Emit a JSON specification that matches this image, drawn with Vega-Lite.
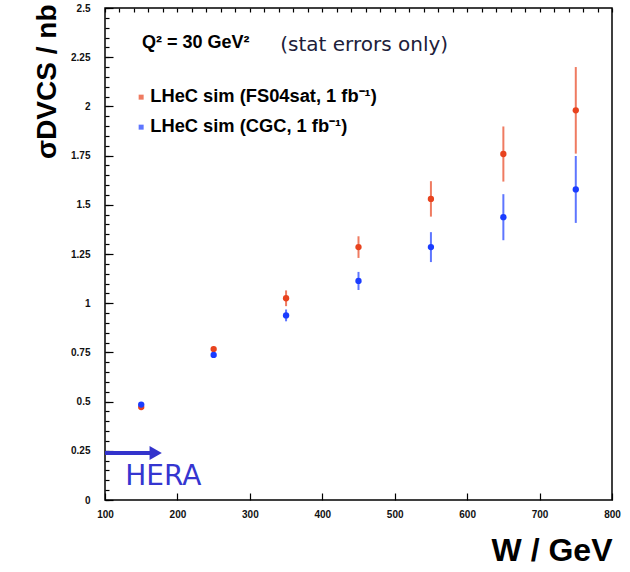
{
  "$schema": "https://vega.github.io/schema/vega-lite/v6.json",
  "width": 507,
  "height": 492,
  "autosize": {"type": "none"},
  "padding": {"left": 105, "top": 8, "right": 18, "bottom": 72},
  "background": "white",
  "config": {
    "view": {"stroke": "black", "strokeWidth": 1.5},
    "axis": {"grid": false, "domain": false, "ticks": true, "tickColor": "black", "tickWidth": 1, "tickOpacity": 1, "labelColor": "#111111", "labelFont": "Liberation Sans", "labelFontWeight": "bold", "labelFontSize": 10, "titleFont": "Liberation Sans", "titleFontWeight": "bold", "titleColor": "black"}
  },
  "data": {
    "values": [
      {"W": 150, "sigma": 0.472, "lo": 0.464, "hi": 0.480, "series": "LHeC sim (FS04sat, 1 fb⁻¹)"},
      {"W": 250, "sigma": 0.767, "lo": 0.754, "hi": 0.780, "series": "LHeC sim (FS04sat, 1 fb⁻¹)"},
      {"W": 350, "sigma": 1.025, "lo": 0.985, "hi": 1.065, "series": "LHeC sim (FS04sat, 1 fb⁻¹)"},
      {"W": 450, "sigma": 1.285, "lo": 1.230, "hi": 1.340, "series": "LHeC sim (FS04sat, 1 fb⁻¹)"},
      {"W": 550, "sigma": 1.530, "lo": 1.440, "hi": 1.620, "series": "LHeC sim (FS04sat, 1 fb⁻¹)"},
      {"W": 650, "sigma": 1.758, "lo": 1.618, "hi": 1.898, "series": "LHeC sim (FS04sat, 1 fb⁻¹)"},
      {"W": 750, "sigma": 1.980, "lo": 1.760, "hi": 2.200, "series": "LHeC sim (FS04sat, 1 fb⁻¹)"},
      {"W": 150, "sigma": 0.485, "lo": 0.477, "hi": 0.493, "series": "LHeC sim (CGC, 1 fb⁻¹)"},
      {"W": 250, "sigma": 0.737, "lo": 0.725, "hi": 0.749, "series": "LHeC sim (CGC, 1 fb⁻¹)"},
      {"W": 350, "sigma": 0.938, "lo": 0.908, "hi": 0.968, "series": "LHeC sim (CGC, 1 fb⁻¹)"},
      {"W": 450, "sigma": 1.113, "lo": 1.067, "hi": 1.159, "series": "LHeC sim (CGC, 1 fb⁻¹)"},
      {"W": 550, "sigma": 1.285, "lo": 1.209, "hi": 1.361, "series": "LHeC sim (CGC, 1 fb⁻¹)"},
      {"W": 650, "sigma": 1.437, "lo": 1.320, "hi": 1.554, "series": "LHeC sim (CGC, 1 fb⁻¹)"},
      {"W": 750, "sigma": 1.578, "lo": 1.408, "hi": 1.748, "series": "LHeC sim (CGC, 1 fb⁻¹)"}
    ]
  },
  "layer": [
    {
      "mark": {"type": "rule", "strokeWidth": 2, "opacity": 0.7},
      "encoding": {
        "x": {"field": "W", "type": "quantitative", "scale": {"domain": [100, 800], "nice": false, "zero": false}, "axis": null},
        "y": {"field": "lo", "type": "quantitative", "scale": {"domain": [0, 2.5], "nice": false, "zero": false}, "axis": null},
        "y2": {"field": "hi"},
        "color": {"field": "series", "type": "nominal", "scale": {"domain": ["LHeC sim (FS04sat, 1 fb⁻¹)", "LHeC sim (CGC, 1 fb⁻¹)"], "range": ["#e8431e", "#1a3cff"]}}
      }
    },
    {
      "mark": {"type": "circle", "size": 40, "opacity": 1},
      "encoding": {
        "x": {"field": "W", "type": "quantitative",
              "axis": {"orient": "bottom", "offset": -7, "values": [100,120,140,160,180,200,220,240,260,280,300,320,340,360,380,400,420,440,460,480,500,520,540,560,580,600,620,640,660,680,700,720,740,760,780,800],
                       "ticks": true, "tickSize": 7, "tickColor": "black", "tickWidth": 1.2,
                       "tickOpacity": {"condition": {"test": "datum.value % 100 === 0", "value": 1}, "value": 0},
                       "grid": true, "gridColor": "black", "gridOpacity": 1, "gridWidth": 1.2, "gridDash": [4, 1000],
                       "labelExpr": "datum.value % 100 === 0 ? datum.label : ''",
                       "labelPadding": 9, "labelFlush": false, "labelOverlap": false,
                       "title": "W / GeV", "titleFontSize": 32, "titleAnchor": "end", "titleAlign": "right", "titleBaseline": "alphabetic", "titleY": 67}},
        "y": {"field": "sigma", "type": "quantitative",
              "axis": {"orient": "left", "offset": -8, "values": [0,0.05,0.1,0.15,0.2,0.25,0.3,0.35,0.4,0.45,0.5,0.55,0.6,0.65,0.7,0.75,0.8,0.85,0.9,0.95,1,1.05,1.1,1.15,1.2,1.25,1.3,1.35,1.4,1.45,1.5,1.55,1.6,1.65,1.7,1.75,1.8,1.85,1.9,1.95,2,2.05,2.1,2.15,2.2,2.25,2.3,2.35,2.4,2.45,2.5],
                       "ticks": true, "tickSize": 8, "tickColor": "black", "tickWidth": 1.2,
                       "tickOpacity": {"condition": {"test": "abs(datum.value * 4 - floor(datum.value * 4 + 0.5)) < 0.001", "value": 1}, "value": 0},
                       "grid": true, "gridColor": "black", "gridOpacity": 1, "gridWidth": 1.2, "gridDash": [4, 1000],
                       "labelExpr": "abs(datum.value * 4 - floor(datum.value * 4 + 0.5)) < 0.001 ? format(datum.value, '.2~f') : ''",
                       "labelPadding": 15, "labelFlush": false, "labelOverlap": false,
                       "title": "σDVCS / nb", "titleFontSize": 28, "titleAnchor": "end", "titleAlign": "right", "titleAngle": -90, "titleBaseline": "alphabetic", "titleX": -58, "titleY": -4}},
        "color": {"field": "series", "type": "nominal",
                  "legend": {"orient": "none", "legendX": 27, "legendY": 80, "title": null, "symbolType": "square", "symbolSize": 25, "symbolStrokeWidth": 0, "symbolOpacity": 1, "labelFontSize": 18.3, "labelFont": "Liberation Sans", "labelFontWeight": "bold", "labelColor": "black", "rowPadding": 11, "labelOffset": 0, "labelLimit": 400}}
      }
    },
    {
      "data": {"values": [{}]},
      "mark": {"type": "text", "text": "Q² = 30 GeV²", "align": "left", "baseline": "alphabetic", "font": "Liberation Sans", "fontWeight": "bold", "fontSize": 18, "color": "black"},
      "encoding": {"x": {"datum": 151, "type": "quantitative", "axis": null}, "y": {"datum": 2.297, "type": "quantitative", "axis": null}}
    },
    {
      "data": {"values": [{}]},
      "mark": {"type": "text", "text": "(stat errors only)", "align": "left", "baseline": "alphabetic", "font": "DejaVu Sans", "fontSize": 20, "color": "#20203a"},
      "encoding": {"x": {"datum": 342, "type": "quantitative", "axis": null}, "y": {"datum": 2.28, "type": "quantitative", "axis": null}}
    },
    {
      "data": {"values": [{}]},
      "mark": {"type": "text", "text": "HERA", "align": "left", "baseline": "alphabetic", "font": "DejaVu Sans", "fontSize": 28, "color": "#3535d0"},
      "encoding": {"x": {"datum": 128, "type": "quantitative", "axis": null}, "y": {"datum": 0.076, "type": "quantitative", "axis": null}}
    },
    {
      "data": {"values": [{}]},
      "mark": {"type": "rule", "strokeWidth": 4, "color": "#3333cc"},
      "encoding": {"x": {"datum": 100, "type": "quantitative", "axis": null}, "x2": {"datum": 163}, "y": {"datum": 0.239, "type": "quantitative", "axis": null}}
    },
    {
      "data": {"values": [{}]},
      "mark": {"type": "point", "shape": "triangle-right", "filled": true, "size": 200, "opacity": 1, "color": "#3333cc"},
      "encoding": {"x": {"datum": 170, "type": "quantitative", "axis": null}, "y": {"datum": 0.239, "type": "quantitative", "axis": null}}
    }
  ],
  "resolve": {"axis": {"x": "independent", "y": "independent"}}
}
